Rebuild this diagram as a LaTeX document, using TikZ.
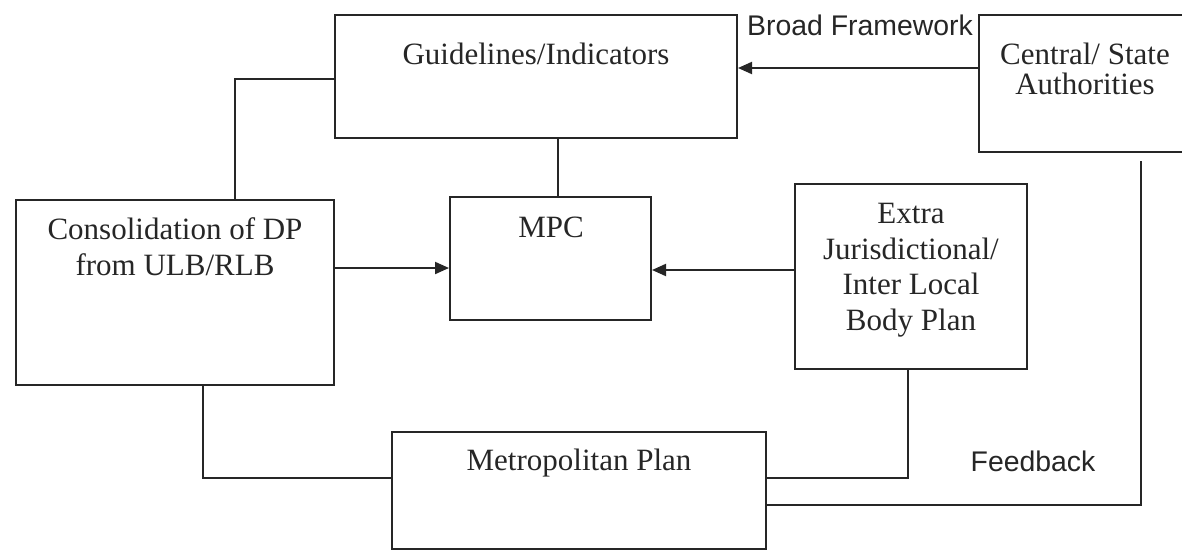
\documentclass[tikz,border=0pt]{standalone}
\usepackage{fontspec}
\setmainfont{Liberation Serif}
\newfontfamily\labelfont{Liberation Sans}
\usetikzlibrary{arrows.meta,fit}
\definecolor{ink}{RGB}{38,38,38}
\begin{document}
\begin{tikzpicture}[x=0.5pt,y=-0.5pt,
  box/.style={draw=ink, line width=1pt, inner sep=0pt},
  txt/.style={text=ink, align=center, inner sep=0pt, font=\fontsize{15.5}{18}\selectfont},
  lbl/.style={text=ink, inner sep=0pt, anchor=base, font=\labelfont\fontsize{14.2}{16}\selectfont},
  link/.style={draw=ink, line width=1pt},
  arr/.style={link, -{Triangle[length=7pt,width=6pt]}}]
\useasboundingbox (0,0) rectangle (1182,552);

% boxes
\node[box, fit={(335,15) (737,138)}] (guide) {};
\node[box, fit={(979,15) (1192,152)}] (central) {};
\node[box, fit={(16,200) (334,385)}] (cons) {};
\node[box, fit={(450,197) (651,320)}] (mpc) {};
\node[box, fit={(795,184) (1027,369)}] (extra) {};
\node[box, fit={(392,432) (766,549)}] (metro) {};

% box texts
\node[txt, anchor=base] (guide-t) at (536,64) {Guidelines/Indicators};
\node[txt, anchor=north, font=\fontsize{15.5}{15}\selectfont] (central-t) at (1085,43) {Central/ State\\Authorities};
\node[txt, anchor=north] (cons-t) at (175,217) {Consolidation of DP\\from ULB/RLB};
\node[txt, anchor=base] (mpc-t) at (551,237) {MPC};
\node[txt, anchor=north, font=\fontsize{15.5}{17.8}\selectfont] (extra-t) at (911,203) {Extra\\Jurisdictional/\\Inter Local\\Body Plan};
\node[txt, anchor=base] (metro-t) at (579,470) {Metropolitan Plan};

% connector labels
\node[lbl] (broad) at (860,35) {Broad Framework};
\node[lbl] (feed) at (1033,471) {Feedback};

% connector routing points
\coordinate (cg) at (235,79);
\coordinate (gm) at (558,0);
\coordinate (cm) at (0,268);
\coordinate (em) at (0,270);
\coordinate (sg) at (0,68);
\coordinate (cmx) at (203,478);
\coordinate (emx) at (908,478);
\coordinate (fb) at (1141,505);

% connectors
\draw[link] (cons.north -| cg) |- (guide.west |- cg);
\draw[link] (guide.south -| gm) -- (mpc.north -| gm);
\draw[arr] (cons.east |- cm) -- (mpc.west |- cm);
\draw[arr] (extra.west |- em) -- (mpc.east |- em);
\draw[arr] (central.west |- sg) -- (guide.east |- sg);
\draw[link] (cons.south -| cmx) |- (metro.west |- cmx);
\draw[link] (extra.south -| emx) |- (metro.east |- emx);
\draw[link, shorten <=4pt] (central.south -| fb) |- (metro.east |- fb);
\end{tikzpicture}
\end{document}
